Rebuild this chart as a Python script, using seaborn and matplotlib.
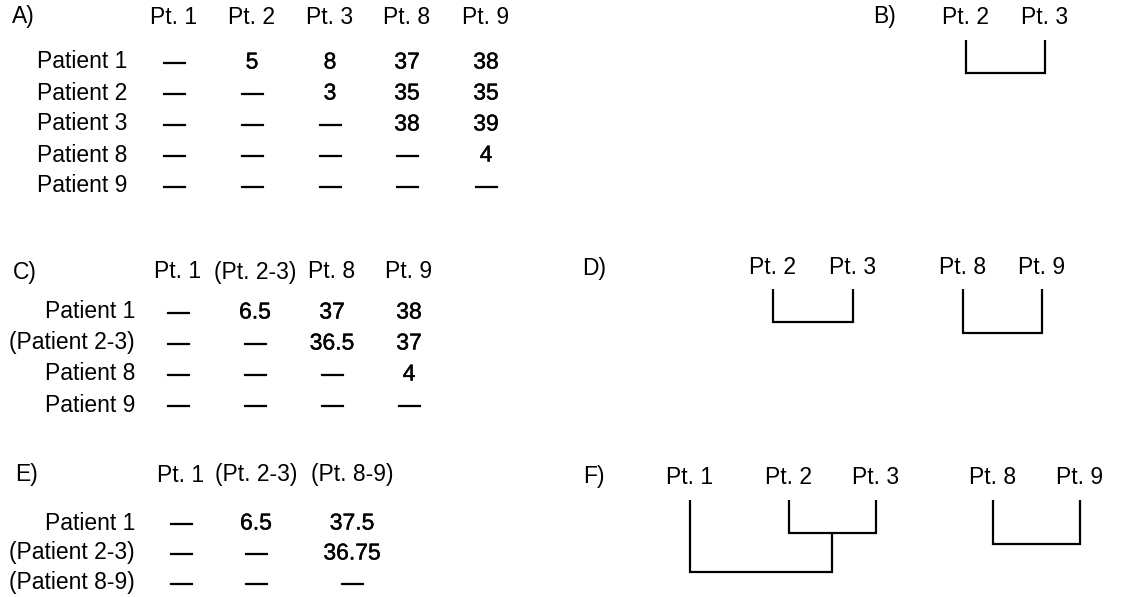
import matplotlib
matplotlib.use("Agg")
import matplotlib.pyplot as plt
import matplotlib.patheffects as pe
import seaborn as sns

# ---- data -------------------------------------------------------------
A_COLS = ["Pt. 1", "Pt. 2", "Pt. 3", "Pt. 8", "Pt. 9"]
A_ROWS = ["Patient 1", "Patient 2", "Patient 3", "Patient 8", "Patient 9"]
A_VALUES = [
    [None, 5, 8, 37, 38],
    [None, None, 3, 35, 35],
    [None, None, None, 38, 39],
    [None, None, None, None, 4],
    [None, None, None, None, None],
]

C_COLS = ["Pt. 1", "(Pt. 2-3)", "Pt. 8", "Pt. 9"]
C_ROWS = ["Patient 1", "(Patient 2-3)", "Patient 8", "Patient 9"]
C_VALUES = [
    [None, 6.5, 37, 38],
    [None, None, 36.5, 37],
    [None, None, None, 4],
    [None, None, None, None],
]

E_COLS = ["Pt. 1", "(Pt. 2-3)", "(Pt. 8-9)"]
E_ROWS = ["Patient 1", "(Patient 2-3)", "(Patient 8-9)"]
E_VALUES = [
    [None, 6.5, 37.5],
    [None, None, 36.75],
    [None, None, None],
]

# dendrogram leaves and merges (left, right, distance)
B_LEAVES = ["Pt. 2", "Pt. 3"]
B_MERGES = [("Pt. 2", "Pt. 3", 3)]
D_LEAVES = ["Pt. 2", "Pt. 3", "Pt. 8", "Pt. 9"]
D_MERGES = [("Pt. 2", "Pt. 3", 3), ("Pt. 8", "Pt. 9", 4)]
F_LEAVES = ["Pt. 1", "Pt. 2", "Pt. 3", "Pt. 8", "Pt. 9"]
F_MERGES = [("Pt. 2", "Pt. 3", 3), ("Pt. 8", "Pt. 9", 4), ("Pt. 1", "Pt. 2+Pt. 3", 6.5)]

# ---- style ------------------------------------------------------------
sns.set_theme(style="white")
plt.rcParams["font.family"] = ["Liberation Sans", "DejaVu Sans"]
plt.rcParams["text.color"] = "black"
FS = 16.5
PX_PER_UNIT = 11   # dendrogram drop per unit of distance
HEAVY = [pe.withStroke(linewidth=0.3, foreground="black")]
DASH_FX = [pe.withStroke(linewidth=0.9, foreground="black")]

fig = plt.figure(figsize=(11.22, 5.97), dpi=100)
ax = fig.add_axes([0, 0, 1, 1])
ax.set_xlim(0, 1122)
ax.set_ylim(597, 0)
ax.axis("off")


def fmt(v):
    return "\u2014" if v is None else f"{v:g}"


def draw_table(tag, tag_x, head_y, col_x, label_right, row_y0, row_step, cols, rows, values):
    ax.text(tag_x, head_y, tag, fontsize=FS, ha="left", va="center")
    for x, c in zip(col_x, cols):
        ax.text(x, head_y, c, fontsize=FS, ha="center", va="center")
    for i, (r, vals) in enumerate(zip(rows, values)):
        y = row_y0 + i * row_step
        ax.text(label_right, y, r, fontsize=FS, ha="right", va="center")
        for x, v in zip(col_x, vals):
            ax.text(x, y, fmt(v), fontsize=FS, ha="center", va="center",
                    path_effects=DASH_FX if v is None else HEAVY)


def draw_dendro(tag, tag_x, label_y, top_y, leaf_x, leaves, merges):
    ax.text(tag_x, label_y, tag, fontsize=FS, ha="left", va="center")
    nodes = {}
    for x, name in zip(leaf_x, leaves):
        ax.text(x, label_y, name, fontsize=FS, ha="center", va="center")
        nodes[name] = (x, top_y)
    for a, b, d in merges:
        xa, ya = nodes[a]
        xb, yb = nodes[b]
        y = top_y + PX_PER_UNIT * d
        ax.plot([xa, xa, xb, xb], [ya, y, y, yb], color="black", lw=1.6,
                solid_joinstyle="miter", solid_capstyle="butt")
        nodes[a + "+" + b] = ((xa + xb) / 2, y)


draw_table("A)", 12, 17, [174, 252, 330, 407, 486], 127, 62, 31,
           A_COLS, A_ROWS, A_VALUES)
draw_table("C)", 13, 272, [178, 255, 332, 409], 135, 312, 31,
           C_COLS, C_ROWS, C_VALUES)
draw_table("E)", 15, 475, [181, 256, 352], 135, 523, 30,
           E_COLS, E_ROWS, E_VALUES)

draw_dendro("B)", 873, 17, 40, [966, 1045], B_LEAVES, B_MERGES)
draw_dendro("D)", 582, 268, 289, [773, 853, 963, 1042], D_LEAVES, D_MERGES)
draw_dendro("F)", 583, 477, 500, [690, 789, 876, 993, 1080], F_LEAVES, F_MERGES)

fig.savefig("out.png", dpi=100)
